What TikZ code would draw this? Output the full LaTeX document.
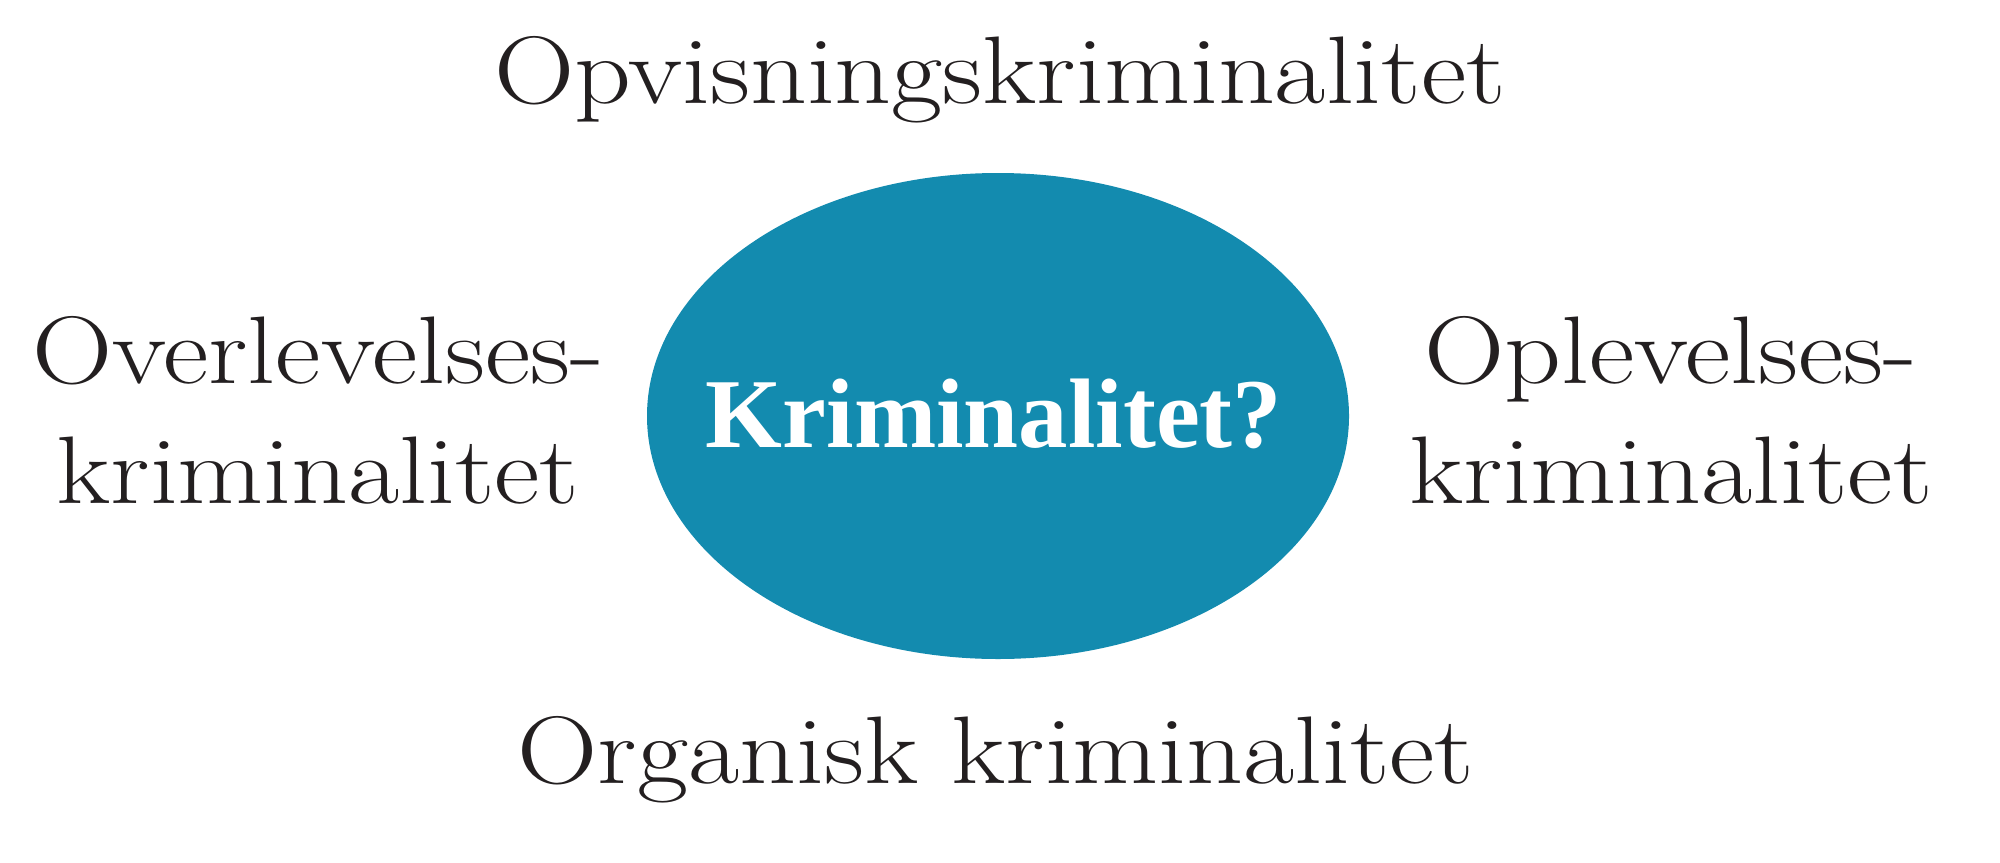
\documentclass[tikz,border=0pt]{standalone}
\usepackage{fontspec}
\newfontfamily\timesfont{Liberation Serif}
\newfontfamily\widefont{Latin Modern Roman}[FakeStretch=1.16]
\usetikzlibrary{shapes.geometric}
\definecolor{ellipseblue}{RGB}{19,139,175}
\definecolor{textblack}{RGB}{35,31,32}
\begin{document}
\begin{tikzpicture}[x=0.5pt,y=-0.5pt,
  lbl/.style={font=\widefont\fontsize{48}{60}\selectfont, inner sep=0pt, align=center, text=textblack},
  hub/.style={ellipse, fill=ellipseblue, minimum width=351pt, minimum height=243pt, inner sep=0pt},
  hubtext/.style={inner sep=0pt, text=white, font=\timesfont\bfseries\fontsize{49.4}{52}\selectfont}]
\useasboundingbox (0,0) rectangle (2000,862);
\node[hub] (c) at (998,416) {};
\node[hubtext, anchor=base] (ct) at (994,447) {Kriminalitet?};
\node[lbl, anchor=base] (top) at (1000,103) {Opvisningskriminalitet};
\node[lbl, anchor=base] (left) at (318,503) {Overlevelses-\\kriminalitet};
\node[lbl, anchor=base] (right) at (1671,503) {Oplevelses-\\kriminalitet};
\node[lbl, anchor=base] (bottom) at (996,783) {Organisk kriminalitet};
\end{tikzpicture}
\end{document}
